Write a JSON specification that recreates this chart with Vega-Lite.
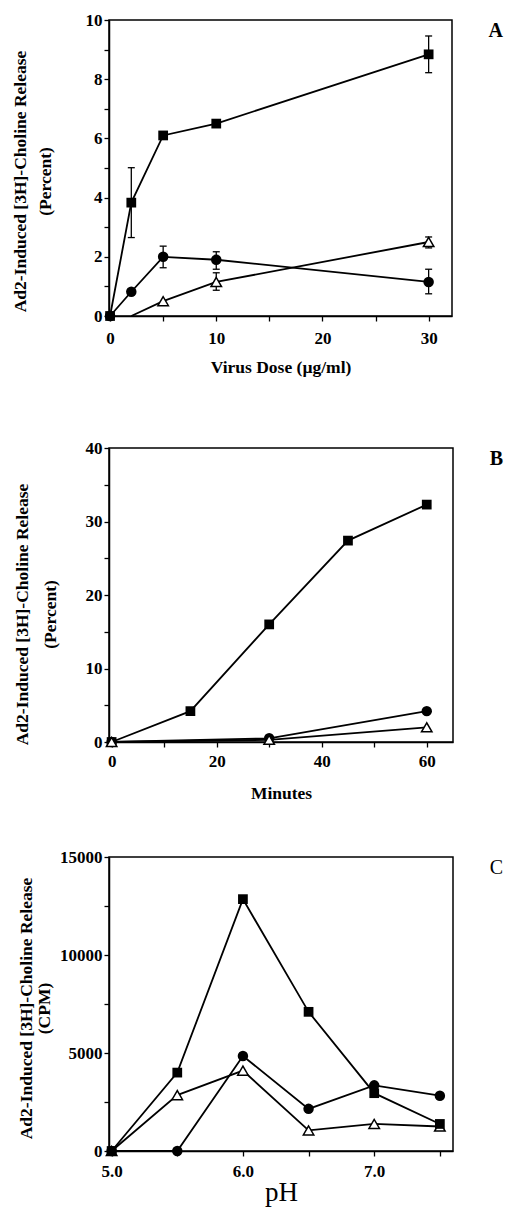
{
  "$schema": "https://vega.github.io/schema/vega-lite/v6.json",
  "background": "white",
  "padding": {"left": 10, "top": 10, "right": 5, "bottom": 5},
  "datasets": {
    "pts": [
      {"panel": "A", "series": "sq", "x": 0, "y": 0},
      {"panel": "A", "series": "sq", "x": 2, "y": 3.83, "lo": 2.65, "hi": 5.01},
      {"panel": "A", "series": "sq", "x": 5, "y": 6.1},
      {"panel": "A", "series": "sq", "x": 10, "y": 6.5},
      {"panel": "A", "series": "sq", "x": 30, "y": 8.84, "lo": 8.22, "hi": 9.46},
      {"panel": "A", "series": "circ", "x": 0, "y": 0},
      {"panel": "A", "series": "circ", "x": 2, "y": 0.82},
      {"panel": "A", "series": "circ", "x": 5, "y": 2.0, "lo": 1.63, "hi": 2.36},
      {"panel": "A", "series": "circ", "x": 10, "y": 1.9, "lo": 1.58, "hi": 2.17},
      {"panel": "A", "series": "circ", "x": 30, "y": 1.15, "lo": 0.75, "hi": 1.58},
      {"panel": "A", "series": "tri", "x": 2, "y": 0},
      {"panel": "A", "series": "tri", "x": 5, "y": 0.5},
      {"panel": "A", "series": "tri", "x": 10, "y": 1.15, "lo": 0.87, "hi": 1.46},
      {"panel": "A", "series": "tri", "x": 30, "y": 2.5, "lo": 2.3, "hi": 2.67},
      {"panel": "B", "series": "sq", "x": 0, "y": 0},
      {"panel": "B", "series": "sq", "x": 15, "y": 4.2},
      {"panel": "B", "series": "sq", "x": 30, "y": 16.0},
      {"panel": "B", "series": "sq", "x": 45, "y": 27.4},
      {"panel": "B", "series": "sq", "x": 60, "y": 32.3},
      {"panel": "B", "series": "circ", "x": 0, "y": 0},
      {"panel": "B", "series": "circ", "x": 30, "y": 0.5},
      {"panel": "B", "series": "circ", "x": 60, "y": 4.2},
      {"panel": "B", "series": "tri", "x": 0, "y": 0},
      {"panel": "B", "series": "tri", "x": 30, "y": 0.3},
      {"panel": "B", "series": "tri", "x": 60, "y": 2.0},
      {"panel": "C", "series": "sq", "x": 5.0, "y": 0},
      {"panel": "C", "series": "sq", "x": 5.5, "y": 4000},
      {"panel": "C", "series": "sq", "x": 6.0, "y": 12850},
      {"panel": "C", "series": "sq", "x": 6.5, "y": 7100},
      {"panel": "C", "series": "sq", "x": 7.0, "y": 2950},
      {"panel": "C", "series": "sq", "x": 7.5, "y": 1380},
      {"panel": "C", "series": "circ", "x": 5.0, "y": 0},
      {"panel": "C", "series": "circ", "x": 5.5, "y": 0},
      {"panel": "C", "series": "circ", "x": 6.0, "y": 4850},
      {"panel": "C", "series": "circ", "x": 6.5, "y": 2150},
      {"panel": "C", "series": "circ", "x": 7.0, "y": 3350},
      {"panel": "C", "series": "circ", "x": 7.5, "y": 2820},
      {"panel": "C", "series": "tri", "x": 5.0, "y": 0},
      {"panel": "C", "series": "tri", "x": 5.5, "y": 2850},
      {"panel": "C", "series": "tri", "x": 6.0, "y": 4100},
      {"panel": "C", "series": "tri", "x": 6.5, "y": 1050},
      {"panel": "C", "series": "tri", "x": 7.0, "y": 1380},
      {"panel": "C", "series": "tri", "x": 7.5, "y": 1250}
    ]
  },
  "data": {"name": "pts"},
  "spacing": 44,
  "vconcat": [
    {
      "width": 343,
      "height": 296,
      "title": {"text": "A", "anchor": "end", "frame": "group", "dx": 51, "dy": 30, "fontSize": 20, "fontWeight": "bold", "offset": 0},
      "transform": [{"filter": "datum.panel === 'A'"}],
      "encoding": {
        "x": {"field": "x", "type": "quantitative", "scale": {"domain": [-0.1, 32.2], "nice": false, "zero": false},
          "axis": {"values": [0, 5, 10, 15, 20, 25, 30], "labelExpr": "datum.value % 10 === 0 ? datum.label : ''", "title": ["Virus Dose (µg/ml)", ""], "titleLineHeight": 17, "titlePadding": 12, "labelPadding": 9}},
        "y": {"field": "y", "type": "quantitative", "scale": {"domain": [0, 10], "nice": false},
          "axis": {"values": [0, 1, 2, 3, 4, 5, 6, 7, 8, 9, 10], "labelExpr": "datum.value % 2 === 0 ? datum.label : ''", "title": ["Ad2-Induced [3H]-Choline Release", "(Percent)"], "titleX": -98, "titleY": 161, "titleBaseline": "top", "titleLineHeight": 25}}
      },
      "layer": [
        {"mark": {"type": "line", "color": "black", "strokeWidth": 1.8}, "encoding": {"detail": {"field": "series"}}},
        {"transform": [{"filter": "isValid(datum.lo)"}], "mark": {"type": "rule", "color": "black", "strokeWidth": 1.3}, "encoding": {"y": {"field": "lo", "type": "quantitative"}, "y2": {"field": "hi"}}},
        {"transform": [{"filter": "isValid(datum.lo)"}], "mark": {"type": "tick", "color": "black", "orient": "horizontal", "size": 7, "thickness": 1.3, "opacity": 1}, "encoding": {"y": {"field": "lo", "type": "quantitative"}}},
        {"transform": [{"filter": "isValid(datum.hi)"}], "mark": {"type": "tick", "color": "black", "orient": "horizontal", "size": 7, "thickness": 1.3, "opacity": 1}, "encoding": {"y": {"field": "hi", "type": "quantitative"}}},
        {"transform": [{"filter": "datum.series === 'tri' && datum.x !== 2"}], "mark": {"type": "point", "shape": "triangle-up", "filled": true, "fill": "white", "stroke": "black", "strokeWidth": 1.5, "size": 110, "opacity": 1}},
        {"transform": [{"filter": "datum.series === 'circ'"}], "mark": {"type": "circle", "color": "black", "size": 110, "opacity": 1}},
        {"transform": [{"filter": "datum.series === 'sq'"}], "mark": {"type": "square", "color": "black", "size": 95, "opacity": 1}}
      ]
    },
    {
      "width": 344,
      "height": 294,
      "title": {"text": "B", "anchor": "end", "frame": "group", "dx": 50, "dy": 30, "fontSize": 20, "fontWeight": "bold", "offset": 0},
      "transform": [{"filter": "datum.panel === 'B'"}],
      "encoding": {
        "x": {"field": "x", "type": "quantitative", "scale": {"domain": [-0.5, 65], "nice": false, "zero": false},
          "axis": {"values": [0, 10, 20, 30, 40, 50, 60], "labelExpr": "datum.value % 20 === 0 ? datum.label : ''", "title": "Minutes", "titlePadding": 15, "labelPadding": 6}},
        "y": {"field": "y", "type": "quantitative", "scale": {"domain": [0, 40], "nice": false},
          "axis": {"values": [0, 5, 10, 15, 20, 25, 30, 35, 40], "labelExpr": "datum.value % 10 === 0 ? datum.label : ''", "title": ["Ad2-Induced [3H]-Choline Release", "(Percent)"], "titleX": -96, "titleY": 166, "titleBaseline": "top", "titleLineHeight": 28}}
      },
      "layer": [
        {"mark": {"type": "line", "color": "black", "strokeWidth": 1.8}, "encoding": {"detail": {"field": "series"}}},
        {"transform": [{"filter": "datum.series === 'sq'"}], "mark": {"type": "square", "color": "black", "size": 95, "opacity": 1}},
        {"transform": [{"filter": "datum.series === 'circ'"}], "mark": {"type": "circle", "color": "black", "size": 110, "opacity": 1}},
        {"transform": [{"filter": "datum.series === 'tri'"}], "mark": {"type": "point", "shape": "triangle-up", "filled": true, "fill": "white", "stroke": "black", "strokeWidth": 1.5, "size": 110, "opacity": 1}}
      ]
    },
    {
      "width": 344,
      "height": 294,
      "title": {"text": "C", "anchor": "end", "frame": "group", "dx": 50, "dy": 30, "fontSize": 20, "fontWeight": "normal", "offset": 0},
      "transform": [{"filter": "datum.panel === 'C'"}],
      "encoding": {
        "x": {"field": "x", "type": "quantitative", "scale": {"domain": [4.98, 7.6], "nice": false, "zero": false},
          "axis": {"values": [5, 5.5, 6, 6.5, 7, 7.5], "labelExpr": "datum.value % 1 === 0 ? format(datum.value, '.1f') : ''", "title": "pH", "titleFontSize": 27, "titleFontWeight": "normal", "titlePadding": 0, "labelPadding": 7}},
        "y": {"field": "y", "type": "quantitative", "scale": {"domain": [0, 15000], "nice": false},
          "axis": {"values": [0, 2500, 5000, 7500, 10000, 12500, 15000], "labelExpr": "datum.value % 5000 === 0 ? format(datum.value, 'd') : ''", "title": ["Ad2-Induced [3H]-Choline Release", "(CPM)"], "titleX": -92, "titleY": 151, "titleBaseline": "top", "titleLineHeight": 18}}
      },
      "layer": [
        {"mark": {"type": "line", "color": "black", "strokeWidth": 1.8}, "encoding": {"detail": {"field": "series"}}},
        {"transform": [{"filter": "datum.series === 'tri'"}], "mark": {"type": "point", "shape": "triangle-up", "filled": true, "fill": "white", "stroke": "black", "strokeWidth": 1.5, "size": 110, "opacity": 1}},
        {"transform": [{"filter": "datum.series === 'circ'"}], "mark": {"type": "circle", "color": "black", "size": 110, "opacity": 1}},
        {"transform": [{"filter": "datum.series === 'sq'"}], "mark": {"type": "square", "color": "black", "size": 95, "opacity": 1}}
      ]
    }
  ],
  "config": {
    "font": "Liberation Serif",
    "view": {"stroke": "black", "strokeWidth": 1.5},
    "axis": {"grid": false, "domainColor": "black", "domainWidth": 1.5, "tickColor": "black", "tickWidth": 1.3, "tickSize": 5, "labelFont": "Liberation Serif", "labelFontWeight": "bold", "labelFontSize": 17, "labelColor": "black", "titleFont": "Liberation Serif", "titleFontWeight": "bold", "titleFontSize": 17.5, "titleColor": "black"},
    "title": {"font": "Liberation Serif", "color": "black"}
  }
}
